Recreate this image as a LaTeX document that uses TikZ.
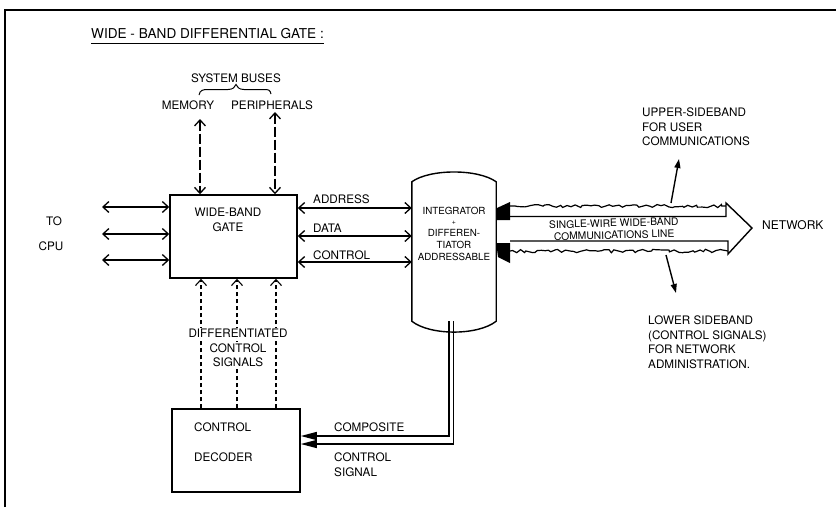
\documentclass[tikz,border=0pt]{standalone}
\usepackage{fontspec}
\setmainfont{TeX Gyre Heros}
\usetikzlibrary{arrows.meta,decorations.pathmorphing,calc}
\begin{document}
\begin{tikzpicture}[x=1pt,y=-1pt,
  lbl/.style={font=\fontsize{11.7}{14.5}\selectfont, inner sep=0pt, align=center},
  lbll/.style={lbl, align=left, anchor=west},
  small/.style={font=\fontsize{9.8}{12}\selectfont, inner sep=0pt, align=center},
  blk/.style={draw, line width=1.5pt, inner sep=0pt},
  bus/.style={line width=1.3pt, {Straight Barb[length=6pt,width=11pt]}-{Straight Barb[length=6pt,width=11pt]}},
  sysbus/.style={bus, dash pattern=on 10pt off 3pt},
  ctlsig/.style={line width=1.1pt, dash pattern=on 4pt off 3pt, -{Straight Barb[length=6pt,width=11pt]}},
  sidearrow/.style={line width=1.4pt, -{Triangle[length=9pt,width=6pt]}},
  jag/.style={line width=1.2pt, decorate, decoration={random steps, segment length=3.5pt, amplitude=1.7pt}}
]
\useasboundingbox (0,0) rectangle (836,507);
% frame
\draw[line width=2.6pt] (5,507) -- (5,10) -- (836,10);
% title
\node[font=\fontsize{13.6}{15}\selectfont, inner sep=0pt, anchor=west] (title) at (91,33.5) {WIDE - BAND DIFFERENTIAL GATE :};
\draw[line width=1pt] ($(title.south west)+(0,5)$) -- ($(title.south east)+(0,5)$);

% system buses
\node[lbl] (sysbus) at (236,78) {SYSTEM BUSES};
\draw[line width=1pt] (199,95) .. controls (200,90) and (203,89.5) .. (208,89.5) -- (228,89.5)
  .. controls (233,89.5) and (235,87) .. (236,84.5) .. controls (237,87) and (239,89.5) .. (244,89.5)
  -- (264,89.5) .. controls (269,89.5) and (270,90) .. (271,94);
\node[lbl] (mem) at (188,105) {MEMORY};
\node[lbl] (per) at (272,105) {PERIPHERALS};

% wide-band gate
\node[blk, minimum width=127pt, minimum height=83pt] (gate) at (233.5,236.5) {};
\node[lbl] (gatetxt) at (228,220) {WIDE-BAND\\GATE};

\coordinate (memtop) at (200,119);
\coordinate (pertop) at (275,112);
\draw[sysbus] (memtop) -- (memtop |- gate.north);
\draw[sysbus] (pertop) -- (pertop |- gate.north);

% CPU side
\node[lbl] (to) at (54,221.5) {TO};
\node[lbl] (cpu) at (51,246.5) {CPU};
\coordinate (cpu1) at (102,207);
\coordinate (cpu2) at (102,234);
\coordinate (cpu3) at (102,260);
\draw[bus] (cpu1) -- (cpu1 -| gate.west);
\draw[bus] (cpu2) -- (cpu2 -| gate.west);
\draw[bus] (cpu3) -- (cpu3 -| gate.west);

% integrator
\node[minimum width=84pt, minimum height=139pt, inner sep=0pt] (integ) at (454,251.5) {};
\draw[line width=1.4pt] (integ.north west) .. controls (430,168.7) and (478,168.7) .. (integ.north east)
  -- (integ.south east) .. controls (478,335.7) and (430,335.7) .. (integ.south west) -- cycle;
\node[small] (integtxt) at (454,234) {INTEGRATOR\\[-2pt]{\fontsize{7}{8}\selectfont +}\\DIFFEREN-\\TIATOR\\ADDRESSABLE};

% address/data/control buses
\coordinate (ya) at (0,208);
\coordinate (yd) at (0,236);
\coordinate (yc) at (0,262);
\draw[bus] (gate.east |- ya) -- (integ.west |- ya);
\draw[bus] (gate.east |- yd) -- (integ.west |- yd);
\draw[bus] (gate.east |- yc) -- (integ.west |- yc);
\node[lbll] (addr) at (313,199) {ADDRESS};
\node[lbll] (data) at (313,228) {DATA};
\node[lbll] (ctrl) at (313,255) {CONTROL};

% decoder
\node[blk, minimum width=128pt, minimum height=83pt] (dec) at (236,450.5) {};
\node[lbll] (dectxt1) at (194,427) {CONTROL};
\node[lbll] (dectxt2) at (194,457.5) {DECODER};

% differentiated control signals
\coordinate (c1) at (201,0);
\coordinate (c2) at (237,0);
\coordinate (c3) at (276,0);
\draw[ctlsig] (c1 |- dec.north) -- (c1 |- gate.south);
\draw[ctlsig] (c2 |- dec.north) -- (c2 |- gate.south);
\draw[ctlsig] (c3 |- dec.north) -- (c3 |- gate.south);
\node[lbl, fill=white, inner sep=1pt] (diff) at (238,333) {DIFFERENTIATED};
\node[lbl, fill=white, inner sep=1pt] (diff2) at (238,355) {CONTROL\\SIGNALS};

% composite control signal
\coordinate (k1) at (449,436);
\coordinate (k2) at (453.5,444);
\draw[line width=1.3pt, -{Triangle[length=16pt,width=8pt]}] (k1 |- integ.south) -- (k1) -- (k1 -| dec.east);
\draw[line width=1.3pt, -{Triangle[length=16pt,width=8pt]}] (k2 |- integ.south) -- (k2) -- (k2 -| dec.east);
\node[lbll] (comp) at (334,427) {COMPOSITE};
\node[lbll] (csig) at (334,464.5) {CONTROL\\SIGNAL};

% communications line
\pgfmathsetseed{11}
\fill ($(integ.east)+(0,-31.5)$) -- (497,208) -- (510,202) -- (510,220) -- cycle;
\fill ($(integ.east)+(0,-8.5)$) -- (510,243) -- (510,263) -- (498,257) -- cycle;
\draw[line width=1.4pt, line join=miter] (510,216.5) -- (726,216.5) -- (726,203) -- (752,228) -- (728,254) -- (728,241) -- (510,241);
\draw[jag] (510,206) -- (726,206);
\draw[jag] (510,251) -- (728,251);
\node[font=\fontsize{10.3}{12}\selectfont, inner sep=0pt, align=center, rotate=1.5] (line) at (614,229) {SINGLE-WIRE WIDE-BAND\\COMMUNICATIONS LINE};
\node[lbll, font=\fontsize{12}{14}\selectfont] (net) at (762,225) {NETWORK};

% sidebands
\coordinate (us0) at (671,203);
\coordinate (us1) at (679,159);
\coordinate (ls0) at (666,255);
\coordinate (ls1) at (676,293);
\draw[sidearrow] (us0) -- (us1);
\draw[sidearrow] (ls0) -- (ls1);
\node[lbll, anchor=north west] (usb) at (642,108) {UPPER-SIDEBAND\\FOR USER\\COMMUNICATIONS};
\node[lbll, anchor=north west] (lsb) at (648,316) {LOWER SIDEBAND\\(CONTROL SIGNALS)\\FOR NETWORK\\ADMINISTRATION.};
\end{tikzpicture}
\end{document}
